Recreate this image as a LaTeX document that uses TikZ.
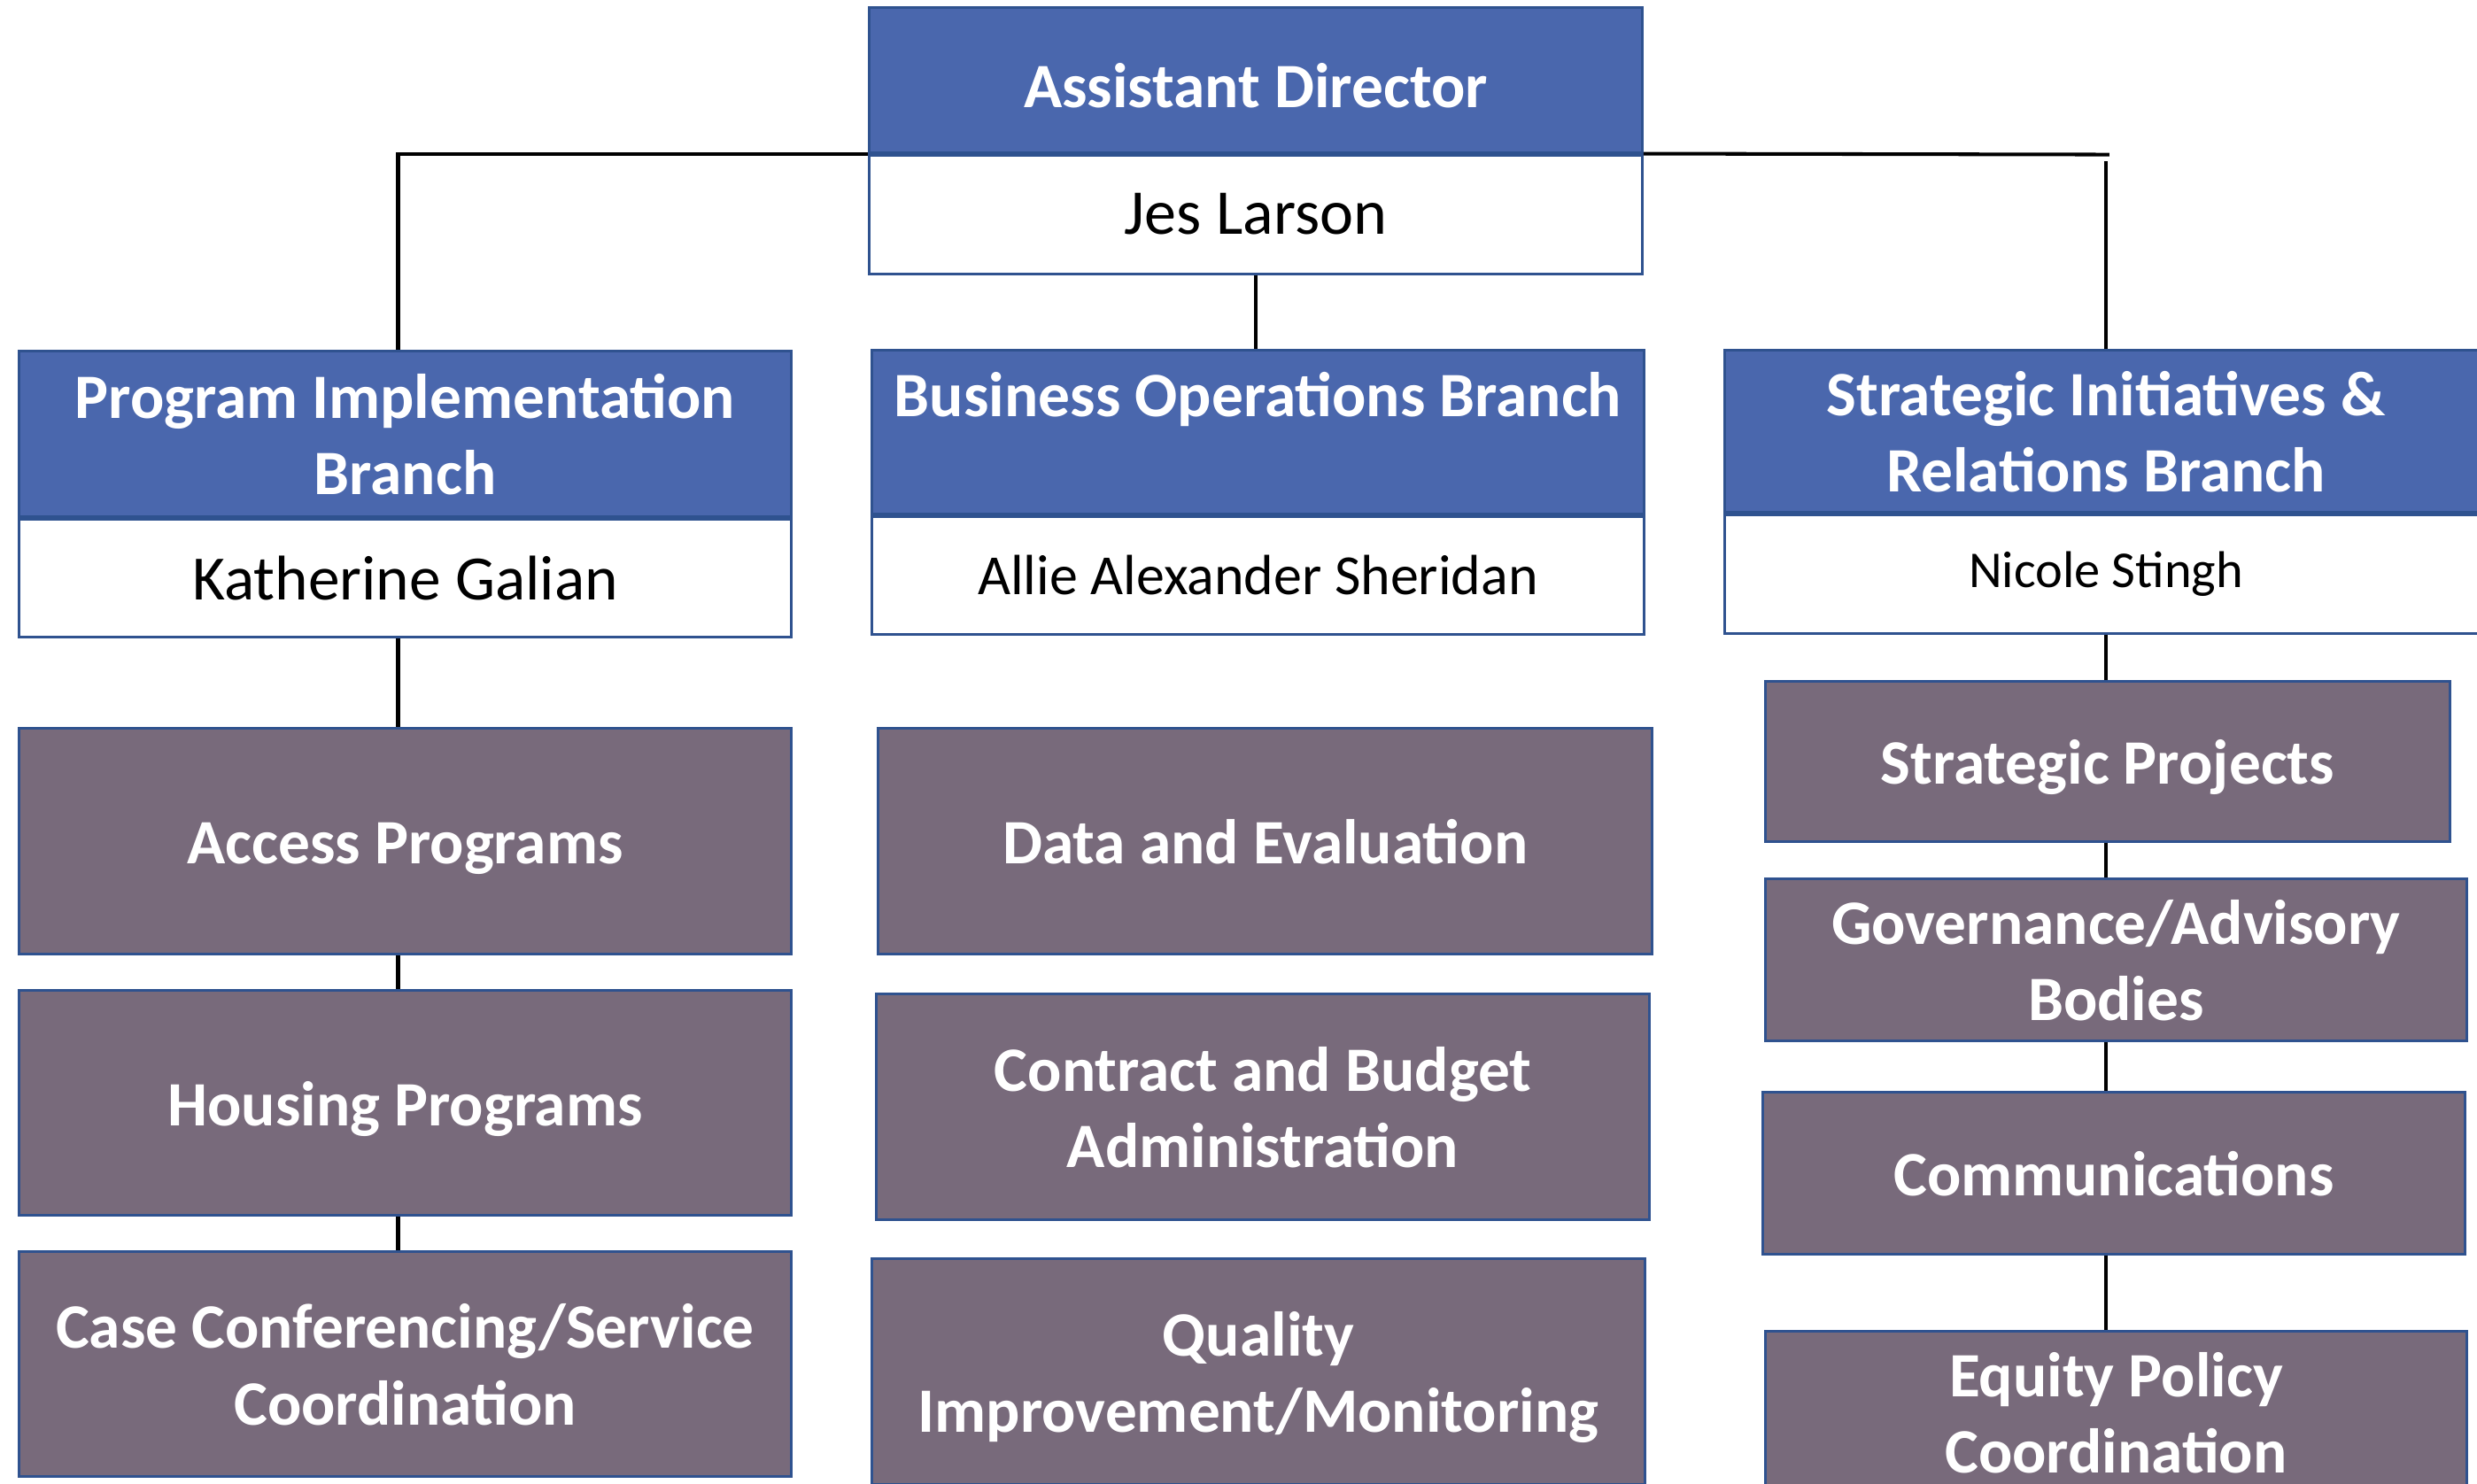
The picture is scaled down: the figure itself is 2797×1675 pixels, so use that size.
\documentclass[tikz,border=0pt]{standalone}
\usepackage{fontspec}
\setmainfont{Carlito}
\usepackage{tikz}
\usetikzlibrary{positioning}

\definecolor{headblue}{HTML}{4A67AD}
\definecolor{edgeblue}{HTML}{2F528F}
\definecolor{unitgray}{HTML}{786A7B}

\newcommand{\headfont}{\fontsize{20.3}{24.5}\selectfont\bfseries}
\newcommand{\namefont}{\fontsize{20.5}{24}\selectfont}
% keeps the baseline at the same place whatever the letters are
\newcommand{\bs}{\rule[-5pt]{0pt}{24.5pt}}
\newcommand{\bstop}{\rule[-3.5pt]{0pt}{24.5pt}}

\tikzset{
  headbox/.style={draw=edgeblue, line width=0.85pt, fill=headblue, text=white,
    font=\headfont, align=center, inner sep=0pt},
  namebox/.style={draw=edgeblue, line width=0.85pt, fill=white, text=black,
    font=\namefont, align=center, inner sep=0pt},
  unitbox/.style={draw=edgeblue, line width=0.85pt, fill=unitgray, text=white,
    font=\headfont, align=center, inner sep=0pt},
  link/.style={line width=1.15pt}
}

\begin{document}
\begin{tikzpicture}[x=0.01cm, y=-0.01cm]
\useasboundingbox (0,0) rectangle (2797,1675);

            % Assistant director on top
            \node[headbox, minimum width=8.72cm, minimum height=1.63cm] (adh) at (1418,90.5) {\bstop Assistant Director\bstop};
            \node[namebox, minimum width=8.72cm, minimum height=1.34cm, below=0pt of adh] (adn) {Jes Larson};

            % Branches
            \node[headbox, minimum width=8.71cm, minimum height=1.875cm] (pibh) at (457.5,490) {\bs Program Implementation\\Branch\bs};
            \node[namebox, minimum width=8.71cm, minimum height=1.33cm, below=0pt of pibh, font=\fontsize{20.3}{24}\selectfont] (pibn) {Katherine Galian};

            \node[headbox, minimum width=8.71cm, minimum height=1.84cm] (bobh) at (1420.5,488) {\bs Business Operations Branch\\\bs};
            \node[namebox, minimum width=8.71cm, minimum height=1.336cm, below=0pt of bobh, font=\fontsize{18.2}{22}\selectfont] (bobn) {Allie Alexander Sheridan};

            \node[headbox, minimum width=8.60cm, minimum height=1.82cm] (sirh) at (2378,487) {\bs Strategic Initiatives \&\\Relations Branch\bs};
            \node[namebox, minimum width=8.60cm, minimum height=1.347cm, below=0pt of sirh, font=\fontsize{16.6}{20}\selectfont] (sirn) {Nicole Stingh};

            % Units, left column
            \node[unitbox, minimum width=8.71cm, minimum height=2.55cm] (access) at (457.5,950) {\bs Access Programs\bs};
            \node[unitbox, minimum width=8.71cm, minimum height=2.54cm] (housing) at (457.5,1245.5) {\bs Housing Programs\bs};
            \node[unitbox, minimum width=8.71cm, minimum height=2.54cm] (casecon) at (457.5,1540.5) {\bs Case Conferencing/Service\\Coordination\bs};

            % Units, middle column
            \node[unitbox, minimum width=8.73cm, minimum height=2.55cm] (data) at (1428.7,950.3) {\bs Data and Evaluation\bs};
            \node[unitbox, minimum width=8.72cm, minimum height=2.54cm] (contract) at (1426,1250) {\bs Contract and Budget\\Administration\bs};
            \node[unitbox, minimum width=8.72cm, minimum height=2.55cm] (quality) at (1421,1549) {\bs Quality\\Improvement/Monitoring\bs};

            % Units, right column
            \node[unitbox, minimum width=7.72cm, minimum height=1.80cm] (projects) at (2380,860) {\bs Strategic Projects\bs};
            \node[unitbox, minimum width=7.91cm, minimum height=1.83cm] (govern) at (2389.4,1084) {\bs Governance/Advisory\\Bodies\bs};
            \node[unitbox, minimum width=7.92cm, minimum height=1.83cm] (comms) at (2387,1324.7) {\bs Communications\bs};
            \node[unitbox, minimum width=7.91cm, minimum height=1.83cm] (equity) at (2389.4,1594.7) {\bs Equity Policy\\Coordination\bs};

            % Column lines
            \coordinate (lcol) at ([xshift=-0.08cm]pibh.north);
            \coordinate (rcol) at (sirh.north);

            % Connections: director to branches
            \draw[link] (adh.south west) -| (lcol);
            \draw[link] (adn.south) -- (adn.south |- bobh.north);
            \draw[link] (adh.south east) -- ++(526,1);
            \draw[link] (rcol) -- ++(0,-212);

            % Connections: branches to units
            \draw[link] (pibn.south -| lcol) -- (access.north -| lcol);
            \draw[link] (access.south -| lcol) -- (housing.north -| lcol);
            \draw[link] (housing.south -| lcol) -- (casecon.north -| lcol);
            \draw[link] (sirn.south) -- (projects.north -| rcol);
            \draw[link] (projects.south -| rcol) -- (govern.north -| rcol);
            \draw[link] (govern.south -| rcol) -- (comms.north -| rcol);
            \draw[link] (comms.south -| rcol) -- (equity.north -| rcol);

        \end{tikzpicture}
\end{document}
